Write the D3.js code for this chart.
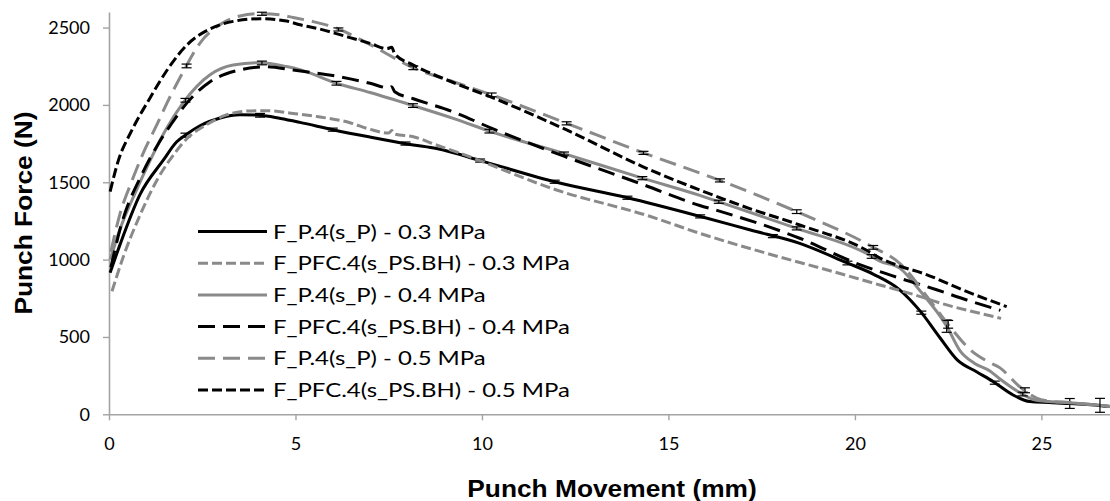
<!DOCTYPE html>
<html>
<head>
<meta charset="utf-8">
<script src="https://cdn.jsdelivr.net/npm/d3@7/dist/d3.min.js"></script>
<style>
  body { margin: 0; background: #fff; }
  svg { display: block; }
</style>
</head>
<body>
<div id="chart"></div>
<script>
// punch force curves, [movement (mm), force (N)]
var p03 = [[0.03,915],[0.3,1100],[0.83,1420],[1.46,1644],[1.81,1760],[2.08,1810],[2.44,1865],[2.98,1915],[3.51,1936],[4.05,1933],[4.6,1912],[5.12,1887],[6.0,1840],[7.0,1792],[8.16,1741],[8.78,1718],[10.03,1635],[12.0,1500],[13.9,1400],[15.84,1280],[17.2,1191],[18.52,1105],[19.78,980],[20.5,905],[21.2,805],[21.74,670],[22.28,495],[22.75,350],[23.26,275],[23.71,211],[24.24,125],[24.69,82],[25.2,76],[25.76,70],[26.6,56],[27.0,46]];
var pfc03 = [[0.08,795],[0.4,1030],[0.8,1270],[1.3,1520],[1.77,1690],[2.08,1780],[2.6,1870],[3.11,1932],[3.69,1960],[4.27,1963],[4.94,1945],[5.57,1925],[6.46,1885],[7.0,1842],[7.5,1818],[7.58,1834],[7.66,1812],[8.16,1794],[8.78,1741],[9.5,1680],[12.0,1450],[14.5,1280],[15.84,1170],[17.63,1041],[19.42,922],[20.67,836],[21.47,782],[22.46,707],[23.35,653],[23.92,620]];
var p04 = [[0.03,1000],[0.3,1200],[0.7,1430],[1.1,1640],[1.5,1830],[1.99,2015],[2.71,2195],[3.33,2258],[4.05,2273],[4.76,2248],[5.12,2228],[6.1,2140],[7.0,2080],[8.16,1995],[9.23,1913],[10.3,1822],[12.18,1687],[14.32,1525],[15.84,1415],[16.3,1378],[18.44,1202],[20.3,1041],[20.67,990],[21.2,945],[21.74,800],[22.46,570],[22.82,410],[23.2,330],[23.62,280],[23.89,228],[24.42,140],[24.87,90],[25.2,82],[25.76,74],[26.57,58],[27.0,47]];
var pfc04 = [[0.05,950],[0.3,1200],[0.9,1560],[1.3,1740],[1.68,1880],[2.08,2010],[2.71,2150],[3.42,2221],[4.23,2247],[4.94,2225],[6.0,2190],[7.0,2140],[7.5,2110],[7.58,2118],[7.66,2085],[8.16,2040],[9.23,1955],[10.3,1845],[12.18,1670],[14.32,1485],[15.84,1350],[16.3,1318],[18.52,1138],[20.13,968],[20.67,922],[21.2,880],[22.19,805],[23.0,739],[23.9,672]];
var p05 = [[0.05,1050],[0.3,1300],[0.6,1500],[0.92,1690],[1.3,1880],[1.55,2010],[1.99,2215],[2.44,2400],[2.98,2520],[3.51,2575],[4.05,2590],[4.58,2582],[4.94,2565],[5.5,2537],[6.0,2505],[7.0,2390],[8.16,2240],[9.23,2150],[10.26,2065],[12.27,1881],[14.33,1690],[16.38,1512],[18.44,1310],[20.45,1085],[21.2,976],[22.0,740],[22.6,550],[23.08,420],[23.53,345],[23.89,300],[24.42,178],[24.87,105],[25.2,86],[25.76,76],[26.6,57],[27.0,47]];
var pfc05 = [[0.03,1440],[0.25,1640],[0.6,1830],[1.1,2045],[1.6,2240],[2.1,2390],[2.7,2490],[3.33,2540],[4.05,2557],[4.76,2542],[5.12,2518],[5.66,2490],[6.46,2435],[7.0,2398],[7.45,2364],[7.58,2372],[7.66,2330],[8.16,2258],[9.23,2145],[10.3,2045],[12.27,1838],[14.32,1600],[15.84,1450],[17.18,1330],[18.52,1224],[20.3,1062],[20.67,1010],[21.2,958],[21.83,911],[22.9,803],[24.07,696]];

// error bars of the measured curves, [movement (mm), +/- force (N)]
var barsP03 = [[2.05,13],[4.05,12],[6.0,10],[7.95,10],[9.95,10],[11.95,10],[13.9,10],[15.85,10],[17.8,10],[19.8,12],[21.78,10],[23.75,10],[25.76,32]];
var barsP04 = [[2.05,12],[4.1,12],[6.1,12],[8.15,12],[10.2,12],[12.2,10],[14.3,10],[16.35,10],[18.44,10],[20.45,12],[22.46,40],[24.5,12],[26.57,45]];
var barsP05 = [[2.08,12],[4.1,10],[6.15,10],[8.16,12],[10.26,12],[12.27,10],[14.33,10],[16.38,10],[18.44,12],[20.49,12],[22.5,25],[24.56,16]];

var seriesNames = ["F_P.4(s_P) - 0.3 MPa", "F_PFC.4(s_PS.BH) - 0.3 MPa", "F_P.4(s_P) - 0.4 MPa",
                   "F_PFC.4(s_PS.BH) - 0.4 MPa", "F_P.4(s_P) - 0.5 MPa", "F_PFC.4(s_PS.BH) - 0.5 MPa"];
var xTicks = [0, 5, 10, 15, 20, 25];
var yTicks = [0, 500, 1000, 1500, 2000, 2500];

var GRAY = "#8a8a8a";
var series = [
  { name: seriesNames[0], data: p03,   bars: barsP03, color: "#000", dash: null },
  { name: seriesNames[1], data: pfc03, bars: null,    color: GRAY,   dash: "10,4" },
  { name: seriesNames[2], data: p04,   bars: barsP04, color: GRAY,   dash: null },
  { name: seriesNames[3], data: pfc04, bars: null,    color: "#000", dash: "17,8" },
  { name: seriesNames[4], data: p05,   bars: barsP05, color: GRAY,   dash: "17,8" },
  { name: seriesNames[5], data: pfc05, bars: null,    color: "#000", dash: "10,4" }
];

var width = 1110, height = 501;
var svg = d3.select("#chart").append("svg")
    .attr("width", width)
    .attr("height", height);

var x = d3.scaleLinear().domain([0, 27]).range([109, 1116]);
var y = d3.scaleLinear().domain([0, 2600]).range([414.3, 12.1]);

var tickFont = "Lato, 'Open Sans', sans-serif";

// axes
var gx = svg.append("g")
    .attr("transform", "translate(0," + y(0) + ")")
    .call(d3.axisBottom(x).tickValues(xTicks).tickFormat(d3.format("d"))
      .tickSize(6).tickSizeOuter(0).tickPadding(17));
var gy = svg.append("g")
    .attr("transform", "translate(" + x(0) + ",0)")
    .call(d3.axisLeft(y).tickValues(yTicks).tickFormat(d3.format("d"))
      .tickSize(6).tickSizeOuter(0).tickPadding(13));

[gx, gy].forEach(function (g) {
  g.selectAll("path.domain").attr("stroke", "#a3a3a3").attr("stroke-width", 1.6);
  g.selectAll(".tick line").attr("stroke", "#a3a3a3").attr("stroke-width", 1.4);
  g.selectAll(".tick text")
    .attr("fill", "#000")
    .style("font-family", tickFont)
    .style("font-size", "18px");
});

// linear lookup of a curve, used to sit the error bars on their line
function valueAt(data, xv) {
  for (var i = 1; i < data.length; i++) {
    if (data[i][0] >= xv) {
      var a = data[i - 1], b = data[i];
      return a[1] + (b[1] - a[1]) * (xv - a[0]) / (b[0] - a[0]);
    }
  }
  return data[data.length - 1][1];
}

var line = d3.line()
    .x(function (d) { return x(d[0]); })
    .y(function (d) { return y(d[1]); })
    .curve(d3.curveMonotoneX);

var plot = svg.append("g");

series.forEach(function (s) {
  plot.append("path")
      .datum(s.data)
      .attr("fill", "none")
      .attr("stroke", s.color)
      .attr("stroke-width", 3)
      .attr("stroke-dasharray", s.dash)
      .attr("d", line);

  if (s.bars) {
    var eb = plot.append("g")
        .selectAll("g")
        .data(s.bars)
        .enter().append("g")
        .attr("stroke", "#000")
        .attr("stroke-width", 1.2);
    eb.each(function (d) {
      var g = d3.select(this);
      var v = valueAt(s.data, d[0]);
      var cx = x(d[0]), y1 = y(v + d[1]), y2 = y(v - d[1]);
      g.append("line").attr("x1", cx).attr("x2", cx).attr("y1", y1).attr("y2", y2);
      g.append("line").attr("x1", cx - 5).attr("x2", cx + 5).attr("y1", y1).attr("y2", y1);
      g.append("line").attr("x1", cx - 5).attr("x2", cx + 5).attr("y1", y2).attr("y2", y2);
    });
  }
});

// legend
var legend = svg.append("g");
var rows = legend.selectAll("g")
    .data(series)
    .enter().append("g")
    .attr("transform", function (d, i) { return "translate(0," + (231.5 + i * 31.7) + ")"; });

rows.append("line")
    .attr("x1", 198).attr("x2", 267)
    .attr("stroke", function (d) { return d.color; })
    .attr("stroke-width", 3)
    .attr("stroke-dasharray", function (d) { return d.dash; });

var labels = rows.append("text")
    .style("font-family", tickFont)
    .style("font-size", "19.5px")
    .attr("fill", "#000")
    .text(function (d) { return d.name; });

// the legend text is drawn wider than the font, stretch it to the measured width
var longest = 0;
labels.each(function () { longest = Math.max(longest, this.getComputedTextLength()); });
var sx = 297 / longest;
labels.attr("transform", "translate(273,7) scale(" + sx + ",1)");

// axis titles
var titleFont = "'Liberation Sans', Arial, sans-serif";
svg.append("text")
    .attr("transform", "translate(612,497) scale(1.12,1)")
    .attr("text-anchor", "middle")
    .style("font-family", titleFont)
    .style("font-size", "23.5px")
    .style("font-weight", "bold")
    .text("Punch Movement (mm)");

svg.append("text")
    .attr("transform", "translate(32,213) rotate(-90) scale(1.12,1)")
    .attr("text-anchor", "middle")
    .style("font-family", titleFont)
    .style("font-size", "23.5px")
    .style("font-weight", "bold")
    .text("Punch Force (N)");
</script>
</body>
</html>
